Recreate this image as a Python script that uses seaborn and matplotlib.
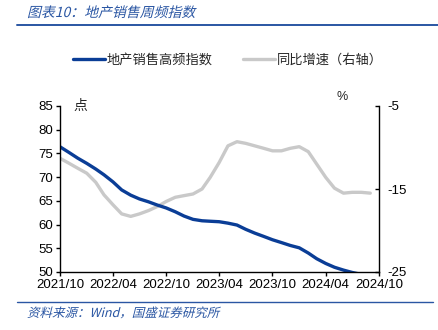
import matplotlib
matplotlib.use("Agg")
import matplotlib.pyplot as plt
import matplotlib.dates as mdates
from matplotlib.lines import Line2D
from matplotlib.patches import PathPatch
from matplotlib.textpath import TextPath
from matplotlib.font_manager import FontProperties
from matplotlib.transforms import Affine2D
import numpy as np
import pandas as pd
import seaborn as sns

# Monthly readings, Oct 2021 onward
start_month = "2021-10-01"
sales_index = [76.4, 75.2, 74.0, 72.9, 71.7, 70.5, 69.0, 67.3, 66.2, 65.4,
               64.8, 64.1, 63.5, 62.7, 61.8, 61.1, 60.8, 60.7, 60.6, 60.3,
               59.9, 59.0, 58.2, 57.5, 56.8, 56.2, 55.6, 55.1, 54.0, 52.8,
               51.8, 51.0, 50.4, 49.9, 49.5]
yoy_growth = [-11.3, -11.9, -12.5, -13.1, -14.2, -15.7, -16.9, -18.0, -18.3, -18.0,
              -17.6, -17.1, -16.5, -16.0, -15.8, -15.6, -15.0, -13.6, -11.8, -9.8,
              -9.3, -9.5, -9.8, -10.1, -10.4, -10.4, -10.1, -9.9, -10.5, -12.0,
              -13.6, -14.9, -15.5, -15.4, -15.4, -15.5]
tick_dates = ["2021-10-01", "2022-04-01", "2022-10-01", "2023-04-01",
              "2023-10-01", "2024-04-01", "2024-10-01"]
series_names = ["地产销售高频指数", "同比增速（右轴）"]
title_text = "图表10：地产销售周频指数"
source_text = "资料来源：Wind，国盛证券研究所"

sns.set_style("ticks")
plt.rcParams["font.family"] = ["Liberation Sans", "Noto Sans CJK SC", "DejaVu Sans"]
plt.rcParams["axes.unicode_minus"] = False

DPI = 100
W, H = 439, 330
BLUE = "#0a3d96"
GRAY = "#c9c9c9"
TEXT_BLUE = "#2a56a3"

df_idx = pd.DataFrame({
    "date": pd.date_range(start_month, periods=len(sales_index), freq="MS"),
    "value": sales_index,
})
df_yoy = pd.DataFrame({
    "date": pd.date_range(start_month, periods=len(yoy_growth), freq="MS"),
    "value": yoy_growth,
})

fig = plt.figure(figsize=(W / DPI, H / DPI), dpi=DPI)
ax = fig.add_axes([60 / W, 1 - 272 / H, (379 - 60) / W, (272 - 106) / H])
ax2 = ax.twinx()

sns.lineplot(data=df_yoy, x="date", y="value", ax=ax2, color=GRAY, lw=2.4)
sns.lineplot(data=df_idx, x="date", y="value", ax=ax, color=BLUE, lw=2.4)

ax.set_zorder(ax2.get_zorder() + 1)
ax.patch.set_visible(False)

ax.set_ylim(50, 85)
ax.set_yticks(np.arange(50, 86, 5))
ax2.set_ylim(-25, -5)
ax2.set_yticks([-25, -15, -5])

ticks = pd.to_datetime(tick_dates)
ax.set_xlim(ticks[0], ticks[-1])
ax.set_xticks(ticks)
ax.xaxis.set_major_formatter(mdates.DateFormatter("%Y/%m"))

for a in (ax, ax2):
    a.set_xlabel("")
    a.set_ylabel("")
    a.spines["top"].set_visible(False)
    for s in a.spines.values():
        s.set_color("black")
        s.set_linewidth(1.0)
    a.tick_params(labelsize=9.5, length=3, width=1.0, colors="black", pad=2)
ax2.tick_params(axis="y", direction="in", pad=6)
ax.spines["right"].set_visible(False)
ax2.spines["left"].set_visible(False)
ax2.spines["bottom"].set_visible(False)

# Unit labels
fig.text(80 / W, 1 - 106 / H, "点", fontsize=10, family=["Noto Sans CJK SC"],
         ha="center", va="center")
fig.text(342 / W, 1 - 97 / H, "%", fontsize=9, ha="center", va="center")

# Legend
handles = [Line2D([], [], color=BLUE, lw=2.4), Line2D([], [], color=GRAY, lw=2.4)]
fig.legend(handles, series_names, loc="center", bbox_to_anchor=(228 / W, 1 - 60 / H),
           ncol=2, frameon=False, handlelength=2.4, handletextpad=0.15, columnspacing=2.3,
           prop={"family": ["Noto Sans CJK SC"], "size": 9.5})


def slanted_text(text, x_px, y_px_top, size, color):
    """Draw text as a sheared path (the CJK font has no italic face)."""
    fp = FontProperties(family="Noto Sans CJK SC", size=size)
    tp = TextPath((0, 0), text, prop=fp, size=size)
    baseline = H - y_px_top
    tr = (Affine2D().skew_deg(14, 0).scale(DPI / 72.0)
          .translate(x_px, baseline))
    fig.add_artist(PathPatch(tp, transform=tr, facecolor=color, edgecolor="none"))


# Header and footer
slanted_text(title_text, 27, 17, 10, TEXT_BLUE)
fig.add_artist(Line2D([17 / W, 1.0], [1 - 24.5 / H] * 2, color=TEXT_BLUE, lw=1.4))
fig.add_artist(Line2D([17 / W, 433 / W], [1 - 301.5 / H] * 2, color=TEXT_BLUE, lw=1.0))
slanted_text(source_text, 27, 317, 9, TEXT_BLUE)

fig.savefig("out.png", dpi=DPI)
